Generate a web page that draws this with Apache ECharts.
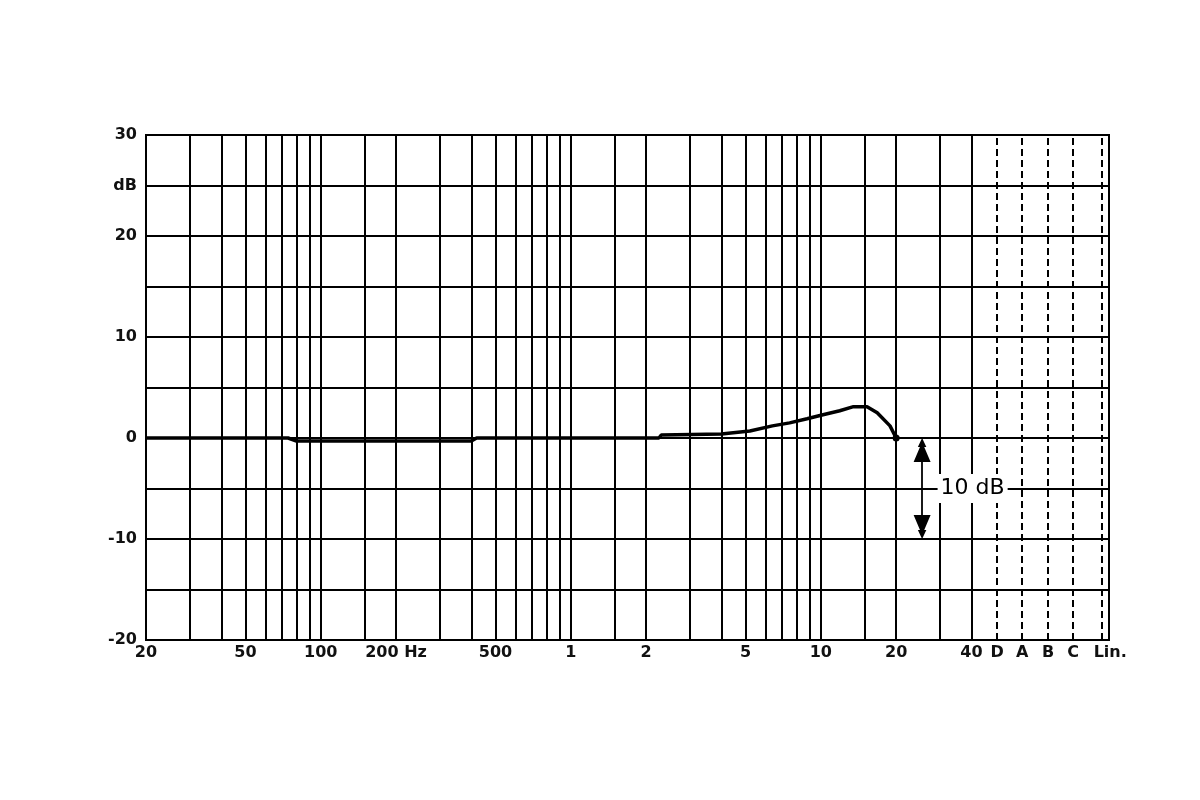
<!DOCTYPE html>
<html><head><meta charset="utf-8">
<script src="https://cdn.jsdelivr.net/npm/echarts@6/dist/echarts.min.js"></script>
<style>html,body{margin:0;background:#fff}#c{width:1200px;height:800px}</style>
</head><body><div id="c"></div>
<script>
// ---- data ----
const curveFreq = [20, 74, 80, 400, 420, 2250, 2300, 4000, 5200, 6400, 7500, 8800, 10200, 11900, 13500, 15300, 16800, 18900, 20000];
const curveDb   = [0, 0, -0.3, -0.3, 0, 0, 0.3, 0.4, 0.7, 1.2, 1.5, 1.9, 2.3, 2.7, 3.1, 3.1, 2.5, 1.2, 0];
const gridFreqs = [20,30,40,50,60,70,80,90,100,150,200,300,400,500,600,700,800,900,1000,1500,2000,3000,4000,5000,6000,7000,8000,9000,10000,15000,20000,30000,40000];
const xLabelFreqs = [20,50,100,200,500,1000,2000,5000,10000,20000,40000];
const xLabelTexts = ['20','50','100','200 Hz','500','1','2','5','10','20','40'];
const weightNames = ['D','A','B','C','Lin.'];
const weightPos   = [50700,63800,81100,102100,133400];
const yTickValues = [30,25,20,15,10,5,0,-5,-10,-15,-20];
const yTickLabels = ['30','dB','20','','10','','0','','-10','','-20'];
const spanFreq = 25400, spanFrom = 0, spanTo = -10, spanMid = -5, spanText = '10 dB';

// ---- build ----
const FONT = 'DejaVu Sans';
const GRID_H = 505, Y_MIN = -20, Y_MAX = 30;
const ARROW_W = 17, ARROW_H = 24;
// arrow symbols are centred on the line ends; pull ends in by half a head so tips land on the values
const inset = (ARROW_H / 2) / (GRID_H / (Y_MAX - Y_MIN));

const yLabelMap = {};
yTickValues.forEach((v, i) => yLabelMap[v] = yTickLabels[i]);

const vLines = gridFreqs.map(f => {
  const k = xLabelFreqs.indexOf(f);
  return { xAxis: f, name: k >= 0 ? xLabelTexts[k] : '' };
});
const wLines = weightNames.map((n, i) => {
  const item = { xAxis: weightPos[i], name: n };
  if (n === 'Lin.') item.label = { offset: [8, 0] };
  return item;
});

const curveData = curveFreq.map((f, i) => {
  const it = { value: [f, curveDb[i]] };
  if (i === curveFreq.length - 1) { it.symbol = 'circle'; it.symbolSize = 7; }
  return it;
});

const arrowPath = 'path://M0,0 L-4,9 L-2,9 L-8,24 L8,24 L2,9 L4,9 Z';
const labelStyle = { show: true, position: 'start', distance: 5, formatter: '{b}',
  fontFamily: FONT, fontWeight: 'bold', fontSize: 16, color: '#111' };

const option = {
  animation: false,
  backgroundColor: '#fff',
  grid: { left: 146, top: 135, width: 963, height: GRID_H, show: true, borderColor: '#000', borderWidth: 2 },
  xAxis: {
    type: 'log', logBase: 10, min: 20, max: 142000,
    axisLine: { show: true, lineStyle: { color: '#000', width: 2 } },
    axisTick: { show: false }, axisLabel: { show: false }, splitLine: { show: false }
  },
  yAxis: {
    type: 'value', min: Y_MIN, max: Y_MAX, interval: 5,
    axisLine: { show: true, lineStyle: { color: '#000', width: 2 } },
    axisTick: { show: false },
    splitLine: { show: true, lineStyle: { color: '#000', width: 2 } },
    axisLabel: { margin: 9, fontFamily: FONT, fontWeight: 'bold', fontSize: 16, color: '#111',
      formatter: v => yLabelMap[v] !== undefined ? yLabelMap[v] : '' }
  },
  series: [
    {
      type: 'line', data: [], z: 1, silent: true,
      markLine: {
        silent: true, symbol: ['none', 'none'], animation: false,
        emphasis: { disabled: true },
        lineStyle: { color: '#000', width: 2, type: 'solid' },
        label: labelStyle,
        data: vLines
      }
    },
    {
      type: 'scatter', data: [], z: 1, silent: true,
      markLine: {
        silent: true, symbol: ['none', 'none'], animation: false,
        emphasis: { disabled: true },
        lineStyle: { color: '#000', width: 2, type: [7, 4] },
        label: labelStyle,
        data: wLines
      }
    },
    {
      type: 'line', z: 5, data: curveData, symbol: 'none', showSymbol: true,
      lineStyle: { color: '#000', width: 3.5 }, itemStyle: { color: '#000' },
      silent: true
    },
    {
      type: 'scatter', data: [], z: 6, silent: true,
      markLine: {
        silent: true, animation: false, emphasis: { disabled: true },
        symbol: [arrowPath, arrowPath], symbolSize: [ARROW_W, ARROW_H],
        lineStyle: { color: '#000', width: 1.8, type: 'solid' },
        label: { show: false },
        data: [[{ coord: [spanFreq, spanFrom - inset] }, { coord: [spanFreq, spanTo + inset] }]]
      },
      markPoint: {
        silent: true, animation: false, symbol: 'circle', symbolSize: 1,
        itemStyle: { color: 'rgba(0,0,0,0)' },
        label: { show: true, position: 'right', distance: 15, formatter: spanText,
          fontFamily: FONT, fontSize: 22, color: '#000', backgroundColor: '#fff', padding: [4, 3, 3, 3] },
        data: [{ coord: [spanFreq, spanMid] }]
      }
    }
  ]
};
echarts.init(document.getElementById('c'), null, { renderer: 'canvas' }).setOption(option);
</script>
</body></html>
